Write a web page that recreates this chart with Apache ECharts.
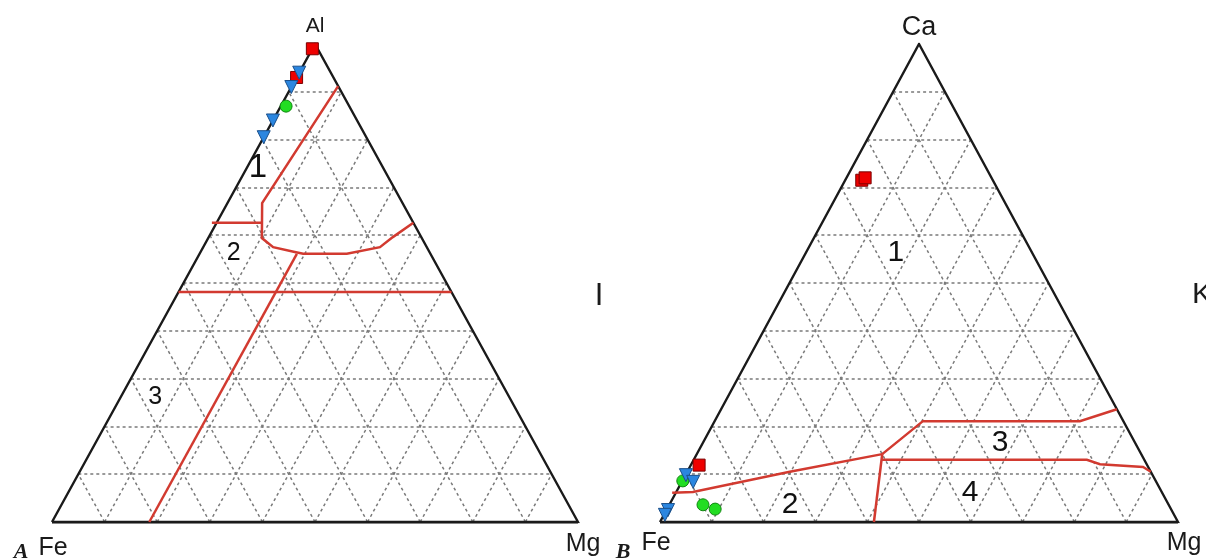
<!DOCTYPE html>
<html>
<head>
<meta charset="utf-8">
<script src="https://cdn.jsdelivr.net/npm/echarts@6/dist/echarts.min.js"></script>
<style>html,body{margin:0;padding:0;background:#fff}#c{width:1206px;height:560px}</style>
</head>
<body>
<div id="c"></div>
<script>
// Ternary compositions as [Fe, Top (Al or Ca), Mg] in percent
const gridTicks = [10, 20, 30, 40, 50, 60, 70, 80, 90];

// Panel A (Al - Fe - Mg)
const aSquares = [[1, 99, 0], [7, 93, 0]];
const aCircles = [[12, 87, 1]];
const aTriangles = [[6, 94, 0], [9, 91, 0], [16, 84, 0], [19.5, 80.5, 0]];
const aBoundary1 = [[0, 91.2, 8.8], [26.7, 66.7, 6.6], [30.4, 59.4, 10.2], [29.2, 57.5, 13.3], [25.6, 56.5, 17.9],
  [24.2, 56.1, 19.7], [15.9, 56.1, 28.0], [8.9, 57.5, 33.6], [5.4, 59.6, 35.0], [0, 62.6, 37.4]];
const aBoundary2 = [[38.3, 62.6, -0.9], [28.8, 62.6, 8.6]];
const aBoundary3 = [[51.9, 48.1, 0], [0, 48.1, 51.9]];
const aBoundary4 = [[25.4, 56.1, 18.5], [81.5, 0, 18.5]];
const aFieldNames = ['1', '2', '3'];
const aFieldPos = [[23.8, 74.1, 2.1], [37.3, 56.3, 6.4], [67.3, 26.2, 6.5]];
const aFieldSizes = [33, 25, 25];

// Panel B (Ca - Fe - Mg)
const bSquares = [[25.3, 71.5, 3.2], [24.4, 72.0, 3.6], [86.5, 11.9, 1.6]];
const bCircles = [[91.3, 8.6, 0.1], [89.9, 3.6, 6.5], [88.0, 2.7, 9.3]];
const bTriangles = [[90.1, 9.8, 0.1], [89.4, 8.4, 2.2], [97.2, 2.5, 0.3], [98.3, 1.5, 0.2]];
const bBoundary1 = [[94.6, 6.1, -0.7], [90.5, 6.3, 3.2], [69.7, 10.5, 19.8], [50.0, 14.2, 35.8]];
const bBoundary2 = [[50.0, 14.2, 35.8], [38.7, 21.1, 40.2], [8.4, 21.1, 70.5], [0, 23.6, 76.4]];
const bBoundary3 = [[50.7, 13.0, 36.3], [11.1, 13.0, 75.9], [9.0, 12.1, 78.9], [1.0, 11.5, 87.5], [0, 10.5, 89.5]];
const bBoundary4 = [[50.0, 14.2, 35.8], [58.7, 0, 41.3]];
const bFieldNames = ['1', '2', '3', '4'];
const bFieldPos = [[26.3, 56.3, 17.4], [73.1, 3.6, 23.3], [26.1, 16.5, 57.4], [37.1, 6.1, 56.8]];
const bFieldSizes = [30, 30, 30, 30];

function tern(p) {
  const fe = p[0], top = p[1], mg = p[2];
  const s = fe + top + mg;
  return [(mg + top / 2) / s, top / s];
}

const RED = '#d23a30';
const series = [];

function addPanel(idx, sq, ci, tr, bounds, fieldNames, fieldPos, fieldSizes) {
  const gridCoords = [];
  gridTicks.forEach(t => {
    gridCoords.push({ coords: [tern([100 - t, t, 0]), tern([0, t, 100 - t])] });
    gridCoords.push({ coords: [tern([100 - t, 0, t]), tern([0, 100 - t, t])] });
    gridCoords.push({ coords: [tern([t, 0, 100 - t]), tern([t, 100 - t, 0])] });
  });
  series.push({
    type: 'lines', coordinateSystem: 'cartesian2d', xAxisIndex: idx, yAxisIndex: idx, silent: true, z: 1,
    lineStyle: { color: '#7a7a7a', width: 1.5, type: [3, 3], opacity: 1 },
    data: gridCoords
  });
  series.push({
    type: 'lines', coordinateSystem: 'cartesian2d', xAxisIndex: idx, yAxisIndex: idx, silent: true, z: 3,
    polyline: true,
    lineStyle: { color: '#1a1a1a', width: 2.4, opacity: 1, join: 'miter' },
    data: [{ coords: [tern([100, 0, 0]), tern([0, 100, 0]), tern([0, 0, 100]), tern([100, 0, 0])] }]
  });
  series.push({
    type: 'lines', coordinateSystem: 'cartesian2d', xAxisIndex: idx, yAxisIndex: idx, silent: true, z: 3,
    lineStyle: { color: '#1a1a1a', width: 3, opacity: 1 },
    data: [{ coords: [tern([100, 0, 0]), tern([0, 0, 100])] }]
  });
  series.push({
    type: 'lines', coordinateSystem: 'cartesian2d', xAxisIndex: idx, yAxisIndex: idx, silent: true, z: 4,
    polyline: true,
    lineStyle: { color: RED, width: 2.5, opacity: 1 },
    data: bounds.map(b => ({ coords: b.map(tern) }))
  });
  series.push({
    type: 'scatter', xAxisIndex: idx, yAxisIndex: idx, symbolSize: 0, silent: true, z: 5,
    itemStyle: { opacity: 1 },
    label: {
      show: true, position: 'inside', color: '#111111', fontFamily: 'Liberation Sans, Arial, sans-serif',
      formatter: p => fieldNames[p.dataIndex],
      fontSize: 24
    },
    data: fieldPos.map((p, i) => ({ value: tern(p), label: { fontSize: fieldSizes[i], color: '#111111' } }))
  });
  series.push({
    type: 'scatter', xAxisIndex: idx, yAxisIndex: idx, symbol: 'rect', symbolSize: 12, z: 6,
    itemStyle: { color: '#ee0000', borderColor: '#7a0000', borderWidth: 1, opacity: 1 },
    data: sq.map(tern)
  });
  series.push({
    type: 'scatter', xAxisIndex: idx, yAxisIndex: idx, symbol: 'circle', symbolSize: 12, z: 7,
    itemStyle: { color: '#22dd22', borderColor: '#118811', borderWidth: 1, opacity: 1 },
    data: ci.map(tern)
  });
  series.push({
    type: 'scatter', xAxisIndex: idx, yAxisIndex: idx, symbol: 'triangle', symbolRotate: 180, symbolSize: 13, z: 8,
    itemStyle: { color: '#2b86e0', borderColor: '#1a4f8a', borderWidth: 1, opacity: 1 },
    data: tr.map(tern)
  });
}

addPanel(0, aSquares, aCircles, aTriangles, [aBoundary1, aBoundary2, aBoundary3, aBoundary4], aFieldNames, aFieldPos, aFieldSizes);
addPanel(1, bSquares, bCircles, bTriangles, [bBoundary1, bBoundary2, bBoundary3, bBoundary4], bFieldNames, bFieldPos, bFieldSizes);

const axisCommon = { type: 'value', min: 0, max: 1, show: false };
const SANS = 'Liberation Sans, Arial, sans-serif';
const SERIF = 'Liberation Serif, Times New Roman, serif';
function txt(text, x, y, size, opts) {
  return {
    type: 'text', silent: true, z: 10,
    style: Object.assign({ text: text, x: x, y: y, fontSize: size, fontFamily: SANS, fill: '#1a1a1a', align: 'center', verticalAlign: 'middle' }, opts || {})
  };
}

const chart = echarts.init(document.getElementById('c'), null, { renderer: 'canvas' });
chart.setOption({
  animation: false,
  backgroundColor: '#ffffff',
  grid: [
    { left: 52, top: 44, width: 526, height: 478 },
    { left: 660, top: 44, width: 518, height: 478 }
  ],
  xAxis: [Object.assign({ gridIndex: 0 }, axisCommon), Object.assign({ gridIndex: 1 }, axisCommon)],
  yAxis: [Object.assign({ gridIndex: 0 }, axisCommon), Object.assign({ gridIndex: 1 }, axisCommon)],
  series: series,
  graphic: [
    txt('Al', 315, 26, 21),
    txt('Fe', 53, 548, 25),
    txt('A', 21, 552, 22, { fontFamily: SERIF, fontWeight: 'bold', fontStyle: 'italic' }),
    txt('Mg', 583, 544, 25),
    txt('I', 599, 296, 31),
    txt('Ca', 919, 28, 27),
    txt('B', 623, 552, 22, { fontFamily: SERIF, fontWeight: 'bold', fontStyle: 'italic' }),
    txt('Fe', 656, 543, 25),
    txt('Mg', 1184, 543, 25),
    txt('K', 1192, 295, 30, { align: 'left' })
  ]
});
</script>
</body>
</html>
